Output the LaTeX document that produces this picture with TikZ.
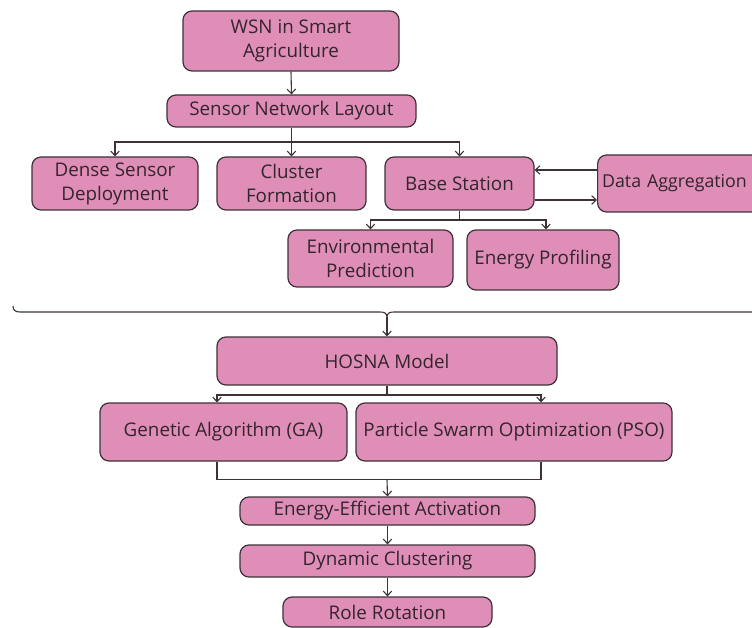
\documentclass[tikz,border=0pt]{standalone}
\usepackage{fontspec}
\setmainfont{Open Sans}
\usetikzlibrary{arrows.meta}
\definecolor{boxfill}{RGB}{223,143,183}
\definecolor{boxdraw}{RGB}{62,50,56}
\definecolor{txt}{RGB}{52,36,46}
\begin{document}
\begin{tikzpicture}[x=1pt,y=-1pt,
  box/.style={draw=boxdraw, line width=1.2pt, fill=boxfill, rounded corners=9pt,
    align=center, text=txt, font=\fontsize{18.8}{24}\selectfont, inner sep=0pt},
  conn/.style={draw=boxdraw, line width=1.1pt},
  arr/.style={conn, -{Straight Barb[length=4.5pt,width=8.5pt]}}]
\useasboundingbox (0,0) rectangle (752,628);
\clip (0,0) rectangle (752,628);
\fill[white] (0,0) rectangle (752,628);

% nodes
\node[box, minimum width=216pt, minimum height=60pt] (wsn) at (291,41) {WSN in Smart\\Agriculture};
\node[box, minimum width=249pt, minimum height=32pt] (snl) at (291.5,111) {Sensor Network Layout};
\node[box, minimum width=166pt, minimum height=53pt] (dense) at (115,183.5) {Dense Sensor\\Deployment};
\node[box, minimum width=149pt, minimum height=53pt] (cluster) at (291.5,183.5) {Cluster\\Formation};
\node[box, minimum width=149pt, minimum height=53pt] (base) at (459.5,183.5) {Base Station};
\node[box, anchor=west, minimum height=57pt, text width=190pt, align=left, inner xsep=4.5pt,
  font=\fontsize{17.8}{24}\selectfont] (data) at (597,183.5) {Data Aggregation};
\node[box, minimum width=165pt, minimum height=57pt] (env) at (370.5,258.5) {Environmental\\Prediction};
\node[box, minimum width=152pt, minimum height=60pt] (energy) at (543,260) {Energy Profiling};
\node[box, minimum width=340pt, minimum height=48pt] (hosna) at (387,361) {HOSNA Model};
\node[box, minimum width=247pt, minimum height=58pt] (ga) at (223.5,432) {Genetic Algorithm (GA)};
\node[box, minimum width=316pt, minimum height=58pt] (pso) at (514,432) {Particle Swarm Optimization (PSO)};
\node[box, minimum width=295pt, minimum height=28pt] (eea) at (387.5,511) {Energy-Efficient Activation};
\node[box, minimum width=295pt, minimum height=32pt] (dc) at (387.5,561) {Dynamic Clustering};
\node[box, minimum width=209pt, minimum height=30pt] (rr) at (387.5,612) {Role Rotation};

% connectors
\draw[arr] (wsn.south) -- (snl.north);
\coordinate (j1) at (291.5,142);
\draw[conn] (snl.south) -- (j1);
\draw[arr] (j1) -| (dense.north);
\draw[arr] (j1) -- (cluster.north);
\draw[arr] (j1) -| (base.north);

\draw[arr] ([yshift=13.5pt]data.west) -- ([yshift=13.5pt]base.east);
\draw[arr] ([yshift=-16.5pt]base.east) -- ([yshift=-16.5pt]data.west);

\coordinate (j2) at (459.5,220);
\draw[conn] (base.south) -- (j2);
\draw[arr] (j2) -| (env.north);
\draw[arr] (j2) -| ([xshift=3pt]energy.north);

% brace
\coordinate (bt) at (387,317);
\draw[conn] (13,306) .. controls (13,310) and (15,312) .. (20,312) -- (380,312)
  .. controls (384,312) and (387,313) .. (bt)
  .. controls (387,313) and (390,312) .. (394,312) -- (760,312);
\draw[arr] (bt) -- (hosna.north);

\coordinate (j3) at (387,395);
\draw[conn] (hosna.south) -- (j3);
\draw[arr] (j3) -| ([xshift=-6.5pt]ga.north);
\draw[arr] (j3) -| ([xshift=27pt]pso.north);

\coordinate (j4) at (387,479);
\draw[conn] ([xshift=-6.5pt]ga.south) -- ++(0,18) -| ([xshift=27pt]pso.south);
\draw[arr] (j4) -- (eea.north);
\draw[arr] (eea.south) -- (dc.north);
\draw[arr] (dc.south) -- (rr.north);
\end{tikzpicture}
\end{document}
